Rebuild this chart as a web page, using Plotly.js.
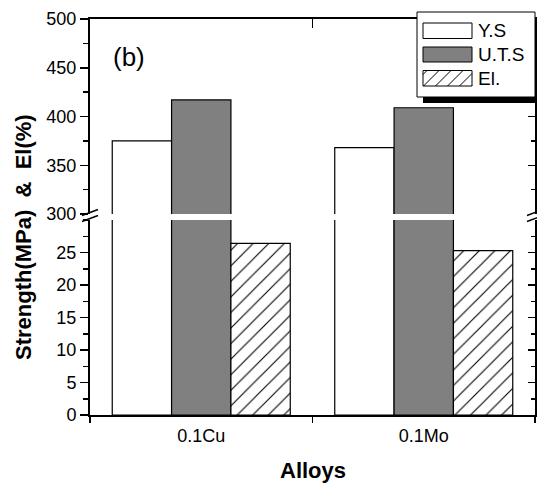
<!DOCTYPE html>
<html>
<head>
<meta charset="utf-8">
<script src="https://cdn.plot.ly/plotly-3.0.1.min.js"></script>
<style>html,body{margin:0;padding:0;background:#fff;}#chart{width:537px;height:486px;}</style>
</head>
<body>
<div id="chart"></div>
<script>
// ---- data ----
var alloys = ['0.1Cu', '0.1Mo'];
var seriesNames = ['Y.S', 'U.T.S', 'El.'];
var ysValues = [375, 368];
var utsValues = [417, 409];
var elValues = [26.4, 25.3];
var lowerTicks = [0, 5, 10, 15, 20, 25];
var upperTicks = [300, 350, 400, 450, 500];

// ---- geometry helpers (pixel -> paper) ----
var W = 537, H = 486, ML = 90, MR = 2, MT = 19, MB = 71;
var PW = W - ML - MR, PH = H - MT - MB;
function px(x) { return (x - ML) / PW; }
function py(y) { return (H - MB - y) / PH; }

var FONT = 'Liberation Sans, Arial, sans-serif';
var lowerDomain = [0, 195 / PH];
var upperDomain = [1 - 195 / PH, 1];

var styles = [
  {color: '#ffffff', line: {color: '#000', width: 1.2}},
  {color: '#808080', line: {color: '#000', width: 1.2}},
  {color: '#ffffff', line: {color: '#000', width: 1.2},
   pattern: {shape: '/', bgcolor: '#ffffff', fgcolor: '#000000', size: 11, solidity: 0.1}}
];
var vals = [ysValues, utsValues, elValues];

var traces = [];
['y', 'y2'].forEach(function (ya) {
  vals.forEach(function (v, i) {
    traces.push({
      type: 'bar', x: alloys, y: v, name: seriesNames[i],
      xaxis: 'x', yaxis: ya, marker: styles[i],
      showlegend: false, hoverinfo: 'skip'
    });
  });
});
// invisible helpers so overlay axes get drawn
traces.push({type: 'scatter', mode: 'markers', x: [alloys[0]], y: [-1000], xaxis: 'x', yaxis: 'y3', marker: {opacity: 0}, showlegend: false, hoverinfo: 'skip'});
traces.push({type: 'scatter', mode: 'markers', x: [alloys[0]], y: [-1000], xaxis: 'x', yaxis: 'y4', marker: {opacity: 0}, showlegend: false, hoverinfo: 'skip'});
traces.push({type: 'scatter', mode: 'markers', x: [0], y: [-1000], xaxis: 'x2', yaxis: 'y2', marker: {opacity: 0}, showlegend: false, hoverinfo: 'skip'});

var tickFont = {family: FONT, size: 18, color: '#000'};

function yAxisLeft(domain, range, tickvals, minorDtick, tick0) {
  return {
    domain: domain, range: range, tickmode: 'array', tickvals: tickvals,
    ticks: 'outside', ticklen: 8, tickwidth: 1.5, tickcolor: '#000',
    minor: {ticks: 'outside', ticklen: 5, tickwidth: 1.5, tickcolor: '#000', dtick: minorDtick, tick0: tick0, showgrid: false},
    showline: true, linewidth: 2, linecolor: '#000', showgrid: false, zeroline: false,
    tickfont: tickFont, anchor: 'x', fixedrange: true
  };
}
function yAxisRight(over, range, tickvals, minorDtick, tick0) {
  return {
    overlaying: over, side: 'right', anchor: 'x', range: range,
    tickmode: 'array', tickvals: tickvals,
    ticks: 'inside', ticklen: 7, tickwidth: 1.5, tickcolor: '#000',
    minor: {ticks: 'inside', ticklen: 4, tickwidth: 1.5, tickcolor: '#000', dtick: minorDtick, tick0: tick0, showgrid: false},
    showline: true, linewidth: 2, linecolor: '#000', showgrid: false, zeroline: false,
    showticklabels: false, fixedrange: true
  };
}

// ---- manual legend ----
var shapes = [];
var annotations = [];
function rectPx(x0, y0, x1, y1, fill, lw) {
  return {type: 'rect', xref: 'paper', yref: 'paper', layer: 'above',
    x0: px(x0), x1: px(x1), y0: py(y1), y1: py(y0),
    fillcolor: fill, line: {color: '#000', width: lw}};
}
function linePx(x0, y0, x1, y1, w) {
  return {type: 'line', xref: 'paper', yref: 'paper', layer: 'above',
    x0: px(x0), y0: py(y0), x1: px(x1), y1: py(y1), line: {color: '#000', width: w}};
}
// shadow + box
shapes.push(rectPx(423, 17, 545, 103, '#000', 0));
shapes.push(rectPx(417, 12, 535, 97, '#fff', 1));
var swatchY = [[23, 38.5], [47, 62], [70.5, 86]];
var swatchX = [423, 472];
var swatchFill = ['#fff', '#808080', '#fff'];
swatchY.forEach(function (sy, i) {
  shapes.push(rectPx(swatchX[0], sy[0], swatchX[1], sy[1], swatchFill[i], 1));
  annotations.push({xref: 'paper', yref: 'paper', x: px(476), y: py((sy[0] + sy[1]) / 2),
    xanchor: 'left', yanchor: 'middle', showarrow: false, text: seriesNames[i],
    font: {family: FONT, size: 19, color: '#000'}});
});
// hatching of El. swatch
(function () {
  var x0 = swatchX[0], x1 = swatchX[1], y0 = swatchY[2][0], y1 = swatchY[2][1];
  var h = y1 - y0, step = 12;
  for (var s = x0 - h + 4; s < x1; s += step) {
    var ax = s, ay = y1, bx = s + h, by = y0;
    if (ax < x0) { ay = y1 - (x0 - ax); ax = x0; }
    if (bx > x1) { by = y0 + (bx - x1); bx = x1; }
    if (bx > ax) shapes.push(linePx(ax, ay, bx, by, 1));
  }
})();
// axis break marks
[[90], [535]].forEach(function (p) {
  var cx = p[0];
  shapes.push({type: 'line', xref: 'paper', yref: 'paper', layer: 'above',
    x0: px(cx - 8), y0: py(215.5), x1: px(cx + 8), y1: py(209.5), line: {color: '#000', width: 1.5}});
  shapes.push({type: 'line', xref: 'paper', yref: 'paper', layer: 'above',
    x0: px(cx - 8), y0: py(221.5), x1: px(cx + 8), y1: py(215.5), line: {color: '#000', width: 1.5}});
});

annotations.push({xref: 'paper', yref: 'paper', x: px(128.5), y: py(57.5), xanchor: 'center', yanchor: 'middle',
  showarrow: false, text: '(b)', font: {family: FONT, size: 26, color: '#000'}});
annotations.push({xref: 'paper', yref: 'paper', x: px(23), y: py(237), xanchor: 'center', yanchor: 'middle',
  showarrow: false, textangle: -90, text: 'Strength(MPa)  &  El(%)', font: {family: FONT, size: 22, color: '#000', weight: 'bold'}});
annotations.push({xref: 'paper', yref: 'paper', x: 0.5, y: py(470), xanchor: 'center', yanchor: 'middle',
  showarrow: false, text: 'Alloys', font: {family: FONT, size: 22, color: '#000', weight: 'bold'}});

var layout = {
  width: W, height: H,
  margin: {l: ML, r: MR, t: MT, b: MB, pad: 0},
  paper_bgcolor: '#fff', plot_bgcolor: 'rgba(0,0,0,0)',
  barmode: 'group', bargap: 0.2, bargroupgap: 0,
  showlegend: false,
  xaxis: {
    type: 'category', range: [-0.5, 1.5], anchor: 'y',
    tickson: 'boundaries', ticks: 'outside', ticklen: 6, tickwidth: 1.5, tickcolor: '#000',
    showline: true, linewidth: 2, linecolor: '#000', showgrid: false, zeroline: false,
    tickfont: tickFont, ticklabelstandoff: 3, fixedrange: true
  },
  xaxis2: {
    overlaying: 'x', side: 'top', anchor: 'y2', type: 'linear', range: [-0.5, 1.5],
    tickmode: 'array', tickvals: [0.5], ticks: 'inside', ticklen: 9, tickwidth: 1.5, tickcolor: '#000',
    showline: true, linewidth: 2, linecolor: '#000', showgrid: false, zeroline: false,
    showticklabels: false, fixedrange: true
  },
  yaxis: yAxisLeft(lowerDomain, [0, 30], lowerTicks, 2.5, 0),
  yaxis2: yAxisLeft(upperDomain, [300, 500], upperTicks, 25, 300),
  yaxis3: yAxisRight('y', [0, 30], lowerTicks.slice(1), 2.5, 0),
  yaxis4: yAxisRight('y2', [300, 500], upperTicks.slice(1), 25, 300),
  shapes: shapes,
  annotations: annotations
};

Plotly.newPlot('chart', traces, layout, {displayModeBar: false, staticPlot: true});
</script>
</body>
</html>
